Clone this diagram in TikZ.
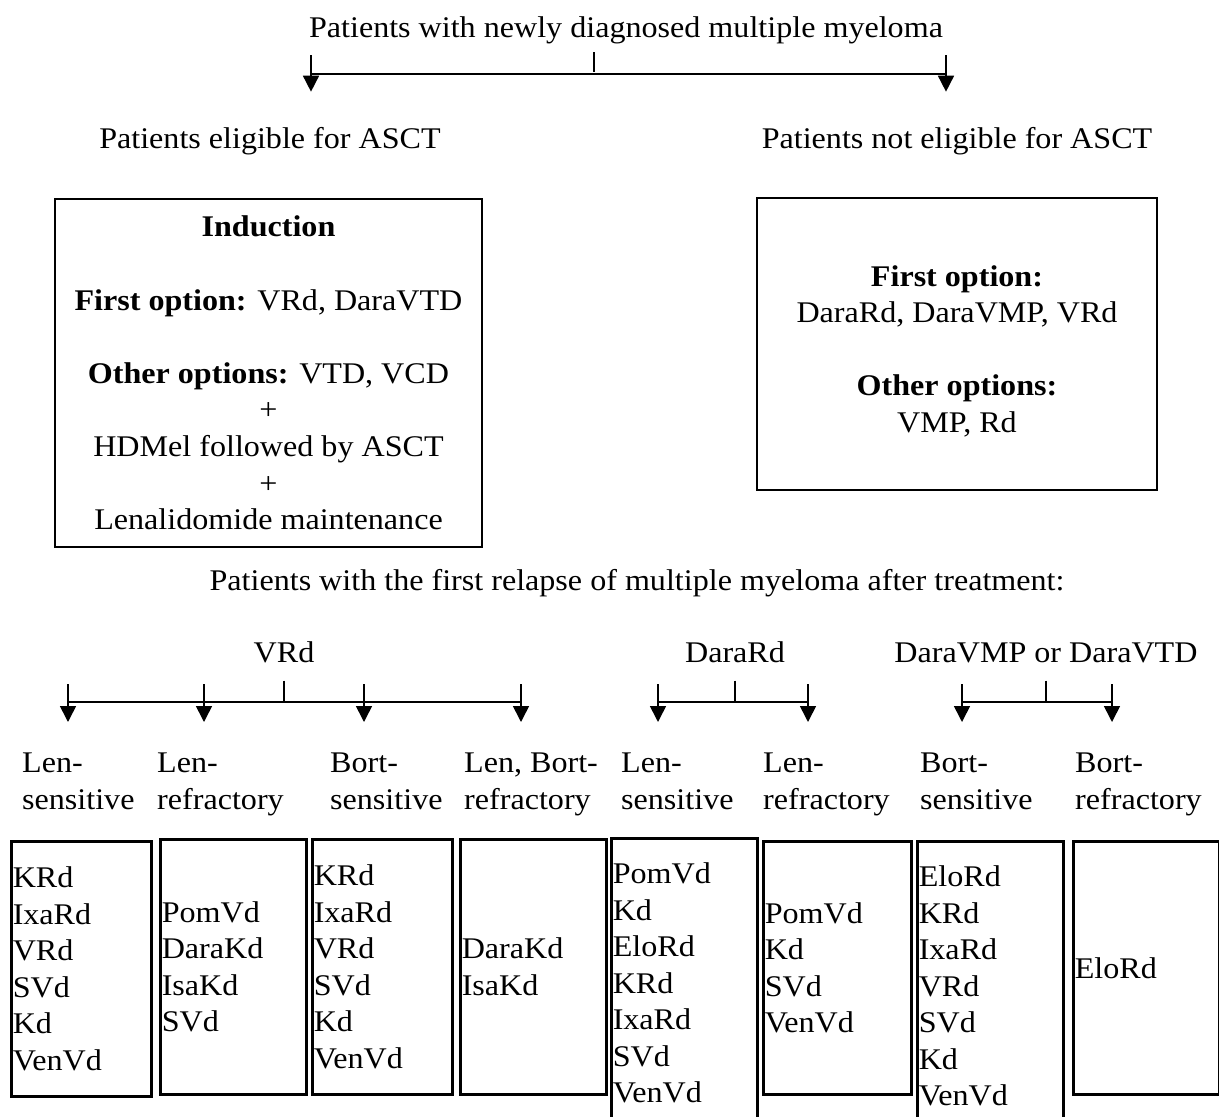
\documentclass[tikz,border=0pt]{standalone}
\usepackage{fontspec}
\setmainfont[FakeStretch=1.07]{Liberation Serif}
\usetikzlibrary{arrows.meta,positioning}

\tikzset{
  txt/.style={inner sep=0pt, font=\fontsize{30}{36.5}\selectfont},
  frame/.style={draw, line width=2.5pt, inner sep=0pt, align=center,
    font=\fontsize{30}{36.6}\selectfont},
  drug/.style={draw, line width=2.5pt, anchor=north west, inner xsep=1.5pt,
    inner ysep=0pt, align=left, text width=#1, font=\fontsize{30}{36.5}\selectfont},
  ln/.style={line width=1.6pt},
  arr/.style={line width=1.6pt, -{Triangle[length=16pt,width=16pt]}}
}

\begin{document}
\begin{tikzpicture}[x=1pt,y=-1pt]
    \useasboundingbox (0,0) rectangle (1219,1117);

    % newly diagnosed
    \node[txt, anchor=base] (title) at (626,37) {Patients with newly diagnosed multiple myeloma};
    \node[txt, anchor=base] (elig) at (270,148) {Patients eligible for ASCT};
    \node[txt, anchor=base] (noelig) at (957,148) {Patients not eligible for ASCT};

    \coordinate (split) at (594,52);
    \coordinate (ta) at (311,55);
    \coordinate (tb) at (946,55);
    \draw[ln] (split) -- ++(0,20);
    \draw[ln] (ta |- 0,74) -- (tb |- 0,74);
    \draw[arr] (ta) -- (ta |- elig.north) [shorten >=35pt];
    \draw[arr] (tb) -- (tb |- noelig.north) [shorten >=35pt];

    \node[frame, minimum width=427pt, minimum height=348pt] (ind) at (268.5,373)
      {\textbf{Induction}\\[36.6pt]
       \textbf{First option:} VRd, DaraVTD\\[36.6pt]
       \textbf{Other options:} VTD, VCD\\
       +\\
       HDMel followed by ASCT\\
       +\\
       Lenalidomide maintenance};
    \node[frame, minimum width=400pt, minimum height=292pt] (nonind) at (957,344)
      {\rule{0pt}{35pt}\textbf{First option:}\\
       DaraRd, DaraVMP, VRd\\[36.5pt]
       \textbf{Other options:}\\
       VMP, Rd};

    % first relapse
    \node[txt, anchor=base] (relapse) at (637,590)
      {Patients with the first relapse of multiple myeloma after treatment:};
    \node[txt, anchor=base] (hvrd) at (284,662) {VRd};
    \node[txt, anchor=base] (hdrd) at (735,662) {DaraRd};
    \node[txt, anchor=base] (hdv) at (1046,662) {DaraVMP or DaraVTD};

    \node[txt, align=left, anchor=north west] (l1) at (22,753) {Len-\\sensitive};
    \node[txt, align=left, anchor=north west] (l2) at (157,753) {Len-\\refractory};
    \node[txt, align=left, anchor=north west] (l3) at (330,753) {Bort-\\sensitive};
    \node[txt, align=left, anchor=north west] (l4) at (464,753) {Len, Bort-\\refractory};
    \node[txt, align=left, anchor=north west] (l5) at (621,753) {Len-\\sensitive};
    \node[txt, align=left, anchor=north west] (l6) at (763,753) {Len-\\refractory};
    \node[txt, align=left, anchor=north west] (l7) at (920,753) {Bort-\\sensitive};
    \node[txt, align=left, anchor=north west] (l8) at (1075,753) {Bort-\\refractory};

    \foreach \h/\a/\b in {hvrd/68/521, hdrd/658/808, hdv/962/1112}
      \draw[ln] (\a,702) -- (\b,702)
                ([yshift=-18pt]\h.south) -- ([yshift=-38pt]\h.south);
    \foreach \l/\x in {l1/68, l2/204, l3/364, l4/521, l5/658, l6/808, l7/962, l8/1112}
      \draw[arr, shorten >=31pt] (\x,684) -- (\x,684 |- \l.north);

    \node[drug=137pt, minimum height=255pt] (b1) at (10,840)
      {KRd\\IxaRd\\VRd\\SVd\\Kd\\VenVd};
    \node[drug=143pt, minimum height=255pt] (b2) at (159,838)
      {PomVd\\DaraKd\\IsaKd\\SVd};
    \node[drug=137pt, minimum height=255pt] (b3) at (311,838)
      {KRd\\IxaRd\\VRd\\SVd\\Kd\\VenVd};
    \node[drug=143pt, minimum height=255pt] (b4) at (459,838)
      {DaraKd\\IsaKd};
    \node[drug=143pt, minimum height=290pt] (b5) at (610,837)
      {PomVd\\Kd\\EloRd\\KRd\\IxaRd\\SVd\\VenVd};
    \node[drug=145pt, minimum height=253pt] (b6) at (762,840)
      {PomVd\\Kd\\SVd\\VenVd};
    \node[drug=143pt, minimum height=290pt] (b7) at (916,840)
      {EloRd\\KRd\\IxaRd\\VRd\\SVd\\Kd\\VenVd};
    \node[drug=143pt, minimum height=253pt] (b8) at (1072,840)
      {EloRd};
\end{tikzpicture}
\end{document}
